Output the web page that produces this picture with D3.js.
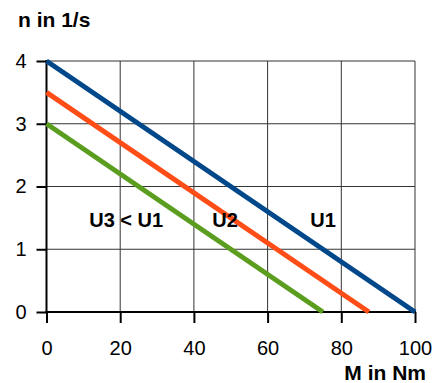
<!DOCTYPE html>
<html>
<head>
<meta charset="utf-8">
<script src="https://cdn.jsdelivr.net/npm/d3@7"></script>
<style>
  html, body { margin: 0; padding: 0; background: #fff; }
  svg { display: block; font-family: "Liberation Sans", Arial, sans-serif; }
</style>
</head>
<body>
<svg id="chart" width="440" height="383"></svg>
<script>
// Torque (M) vs. speed (n) characteristics for three supply voltages
const torqueTicks = [0, 20, 40, 60, 80, 100];
const speedTicks = [0, 1, 2, 3, 4];
const seriesNames = ["U1", "U2", "U3"];
const seriesColors = ["#00488a", "#ff4d17", "#5b9e1f"];
// each series: [M, n] endpoints
const u1Points = [[0, 4], [100, 0]];
const u2Points = [[0, 3.5], [87.5, 0]];
const u3Points = [[0, 3], [75, 0]];
const lineLabels = [
  { text: "U1", m: 71.6, n: 1.36 },
  { text: "U2", m: 45.0, n: 1.36 },
  { text: "U3 < U1", m: 11.6, n: 1.36 }
];

const svg = d3.select("#chart");
const x = d3.scaleLinear().domain([0, 100]).range([46.5, 415]);
const y = d3.scaleLinear().domain([0, 4]).range([312, 61]);

// grid
const grid = svg.append("g");
grid.selectAll("line.v").data(torqueTicks.slice(1)).join("line")
  .attr("x1", d => x(d)).attr("x2", d => x(d))
  .attr("y1", y(0)).attr("y2", y(4))
  .attr("stroke", "#333").attr("stroke-width", 1);
grid.selectAll("line.h").data(speedTicks.slice(1)).join("line")
  .attr("x1", x(0)).attr("x2", x(100))
  .attr("y1", d => y(d)).attr("y2", d => y(d))
  .attr("stroke", "#333").attr("stroke-width", 1);

// axes
const xAxis = d3.axisBottom(x).tickValues(torqueTicks).tickFormat(d3.format("d"))
  .tickSize(11).tickPadding(18);
const yAxis = d3.axisLeft(y).tickValues(speedTicks).tickFormat(d3.format("d"))
  .tickSize(10).tickPadding(10);

const gx = svg.append("g").attr("transform", `translate(0,${y(0)})`).call(xAxis);
const gy = svg.append("g").attr("transform", `translate(${x(0)},0)`).call(yAxis);
[gx, gy].forEach(g => {
  g.select(".domain").remove();
  g.selectAll(".tick line").attr("stroke", "#000").attr("stroke-width", 2);
  g.selectAll(".tick text").attr("fill", "#000")
    .style("font-size", "20px").style("font-family", "'Liberation Sans', Arial, sans-serif");
});
svg.append("line").attr("x1", x(0)).attr("x2", x(0)).attr("y1", y(4) - 1).attr("y2", y(0) + 1)
  .attr("stroke", "#000").attr("stroke-width", 2);
svg.append("line").attr("x1", x(0) - 1).attr("x2", x(100) + 1).attr("y1", y(0)).attr("y2", y(0))
  .attr("stroke", "#000").attr("stroke-width", 2);

// characteristic lines
const line = d3.line().x(d => x(d[0])).y(d => y(d[1]));
const allSeries = [u1Points, u2Points, u3Points];
svg.append("g").selectAll("path").data(allSeries).join("path")
  .attr("d", line)
  .attr("fill", "none")
  .attr("stroke", (d, i) => seriesColors[i])
  .attr("stroke-width", 5);

// labels
svg.append("g").selectAll("text").data(lineLabels).join("text")
  .attr("x", d => x(d.m)).attr("y", d => y(d.n))
  .attr("font-weight", "bold").attr("font-size", 20)
  .text(d => d.text);

svg.append("text").attr("x", 18).attr("y", 27)
  .attr("font-weight", "bold").attr("font-size", 21)
  .text("n in 1/s");
svg.append("text").attr("x", 426).attr("y", 380).attr("text-anchor", "end")
  .attr("font-weight", "bold").attr("font-size", 21)
  .text("M in Nm");
</script>
</body>
</html>
